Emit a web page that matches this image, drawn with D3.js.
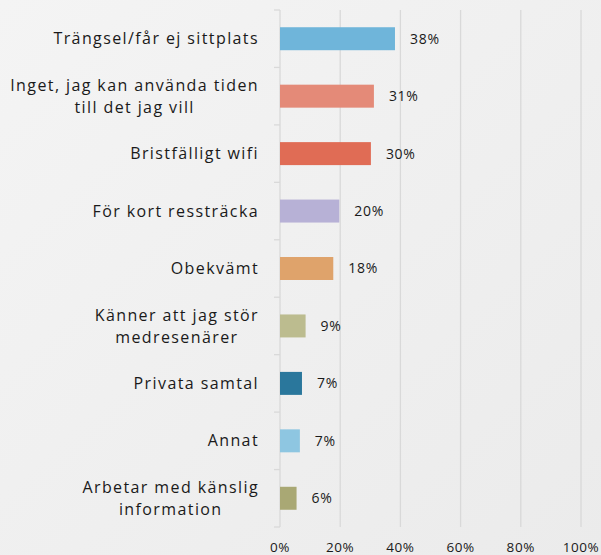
<!DOCTYPE html>
<html>
<head>
  <meta charset="utf-8">
  <title>bar</title>
  <style>
    body {margin:0;}
    svg text {font-family: "Open Sans", sans-serif; fill: #1a1a1a;}
    .cat text {font-size: 16px; letter-spacing: 1.4px;}
    .val {font-size: 14px; letter-spacing: 0.7px;}
    .xt {font-size: 13.5px; letter-spacing: 0.6px; text-anchor: middle;}
  </style>
</head>
<body>
<script src="https://cdnjs.cloudflare.com/ajax/libs/d3/7.8.5/d3.min.js"></script>
<script>
  var categories = [
    ["Trängsel/får ej sittplats"],
    ["Inget, jag kan använda tiden", "till det jag vill"],
    ["Bristfälligt wifi"],
    ["För kort ressträcka"],
    ["Obekvämt"],
    ["Känner att jag stör", "medresenärer"],
    ["Privata samtal"],
    ["Annat"],
    ["Arbetar med känslig", "information"]
  ];
  var values = [38.2, 31.2, 30.2, 19.7, 17.7, 8.5, 7.3, 6.6, 5.5];
  var colors = ["#6fb5da", "#e48a78", "#e06c55", "#b7b1d6", "#dfa36b",
                "#bcbc8f", "#2a779c", "#8ec6e1", "#a9a874"];
  var ticks = [0, 20, 40, 60, 80, 100];

  var width = 601, height = 555,
      pl = 280, pr = 581,
      pt = 10, pb = 527;

  var svg = d3.select('body').append('svg')
    .attr('width', width)
    .attr('height', height);

  var grad = svg.append('defs').append('linearGradient')
    .attr('id', 'bg')
    .attr('x1', 0).attr('y1', 0).attr('x2', 1).attr('y2', 1);
  grad.append('stop').attr('offset', 0).attr('stop-color', '#f4f4f4');
  grad.append('stop').attr('offset', 1).attr('stop-color', '#ebebeb');

  svg.append('rect')
    .attr('width', width).attr('height', height)
    .attr('fill', 'url(#bg)');

  var x = d3.scaleLinear().domain([0, 100]).range([pl, pr]);
  var idx = d3.range(categories.length);
  var y = d3.scaleBand().domain(idx).range([pt, pb]).paddingInner(0.6).paddingOuter(0.3);

  // gridlines
  svg.append('g').selectAll('line')
    .data(ticks.slice(1))
    .join('line')
    .attr('x1', d => x(d)).attr('x2', d => x(d))
    .attr('y1', pt).attr('y2', pb)
    .attr('stroke', '#d9d9d9').attr('stroke-width', 1.3);

  // category axis, tick marks between bands
  var step = (pb - pt) / categories.length;
  var ax = svg.append('g').attr('stroke', '#d9d9d9').attr('stroke-width', 1.3);
  ax.append('line')
    .attr('x1', pl).attr('x2', pl)
    .attr('y1', pt).attr('y2', pb);
  ax.selectAll('line.tk')
    .data(d3.range(categories.length + 1))
    .join('line')
    .attr('class', 'tk')
    .attr('x1', pl - 6).attr('x2', pl)
    .attr('y1', d => pt + d * step).attr('y2', d => pt + d * step);

  // bars
  svg.append('g').selectAll('rect')
    .data(values)
    .join('rect')
    .attr('x', x(0))
    .attr('y', (d, i) => y(i))
    .attr('width', d => x(d) - x(0))
    .attr('height', y.bandwidth())
    .attr('fill', (d, i) => colors[i]);

  // value labels
  svg.append('g').selectAll('text')
    .data(values)
    .join('text')
    .attr('class', 'val')
    .attr('x', d => x(d) + 15)
    .attr('y', (d, i) => y(i) + y.bandwidth() / 2)
    .attr('dy', '0.35em')
    .text(d => Math.round(d) + '%');

  // category labels: block right-aligned, lines centred within it
  var cat = svg.append('g').attr('class', 'cat');
  categories.forEach(function(lines, i){
    var cy = y(i) + y.bandwidth() / 2;
    var t = cat.append('text').attr('text-anchor', 'middle');
    var spans = lines.map(function(s, j){
      return t.append('tspan')
        .attr('y', cy + (j - (lines.length - 1) / 2) * 22)
        .attr('dy', '0.35em')
        .text(s);
    });
    var w = d3.max(spans, sp => sp.node().getComputedTextLength());
    spans.forEach(sp => sp.attr('x', 259 - w / 2));
  });

  // x tick labels
  svg.append('g').selectAll('text')
    .data(ticks)
    .join('text')
    .attr('class', 'xt')
    .attr('x', d => x(d))
    .attr('y', 547)
    .attr('dy', '0.35em')
    .text(d => d + '%');
</script>
</body>
</html>
